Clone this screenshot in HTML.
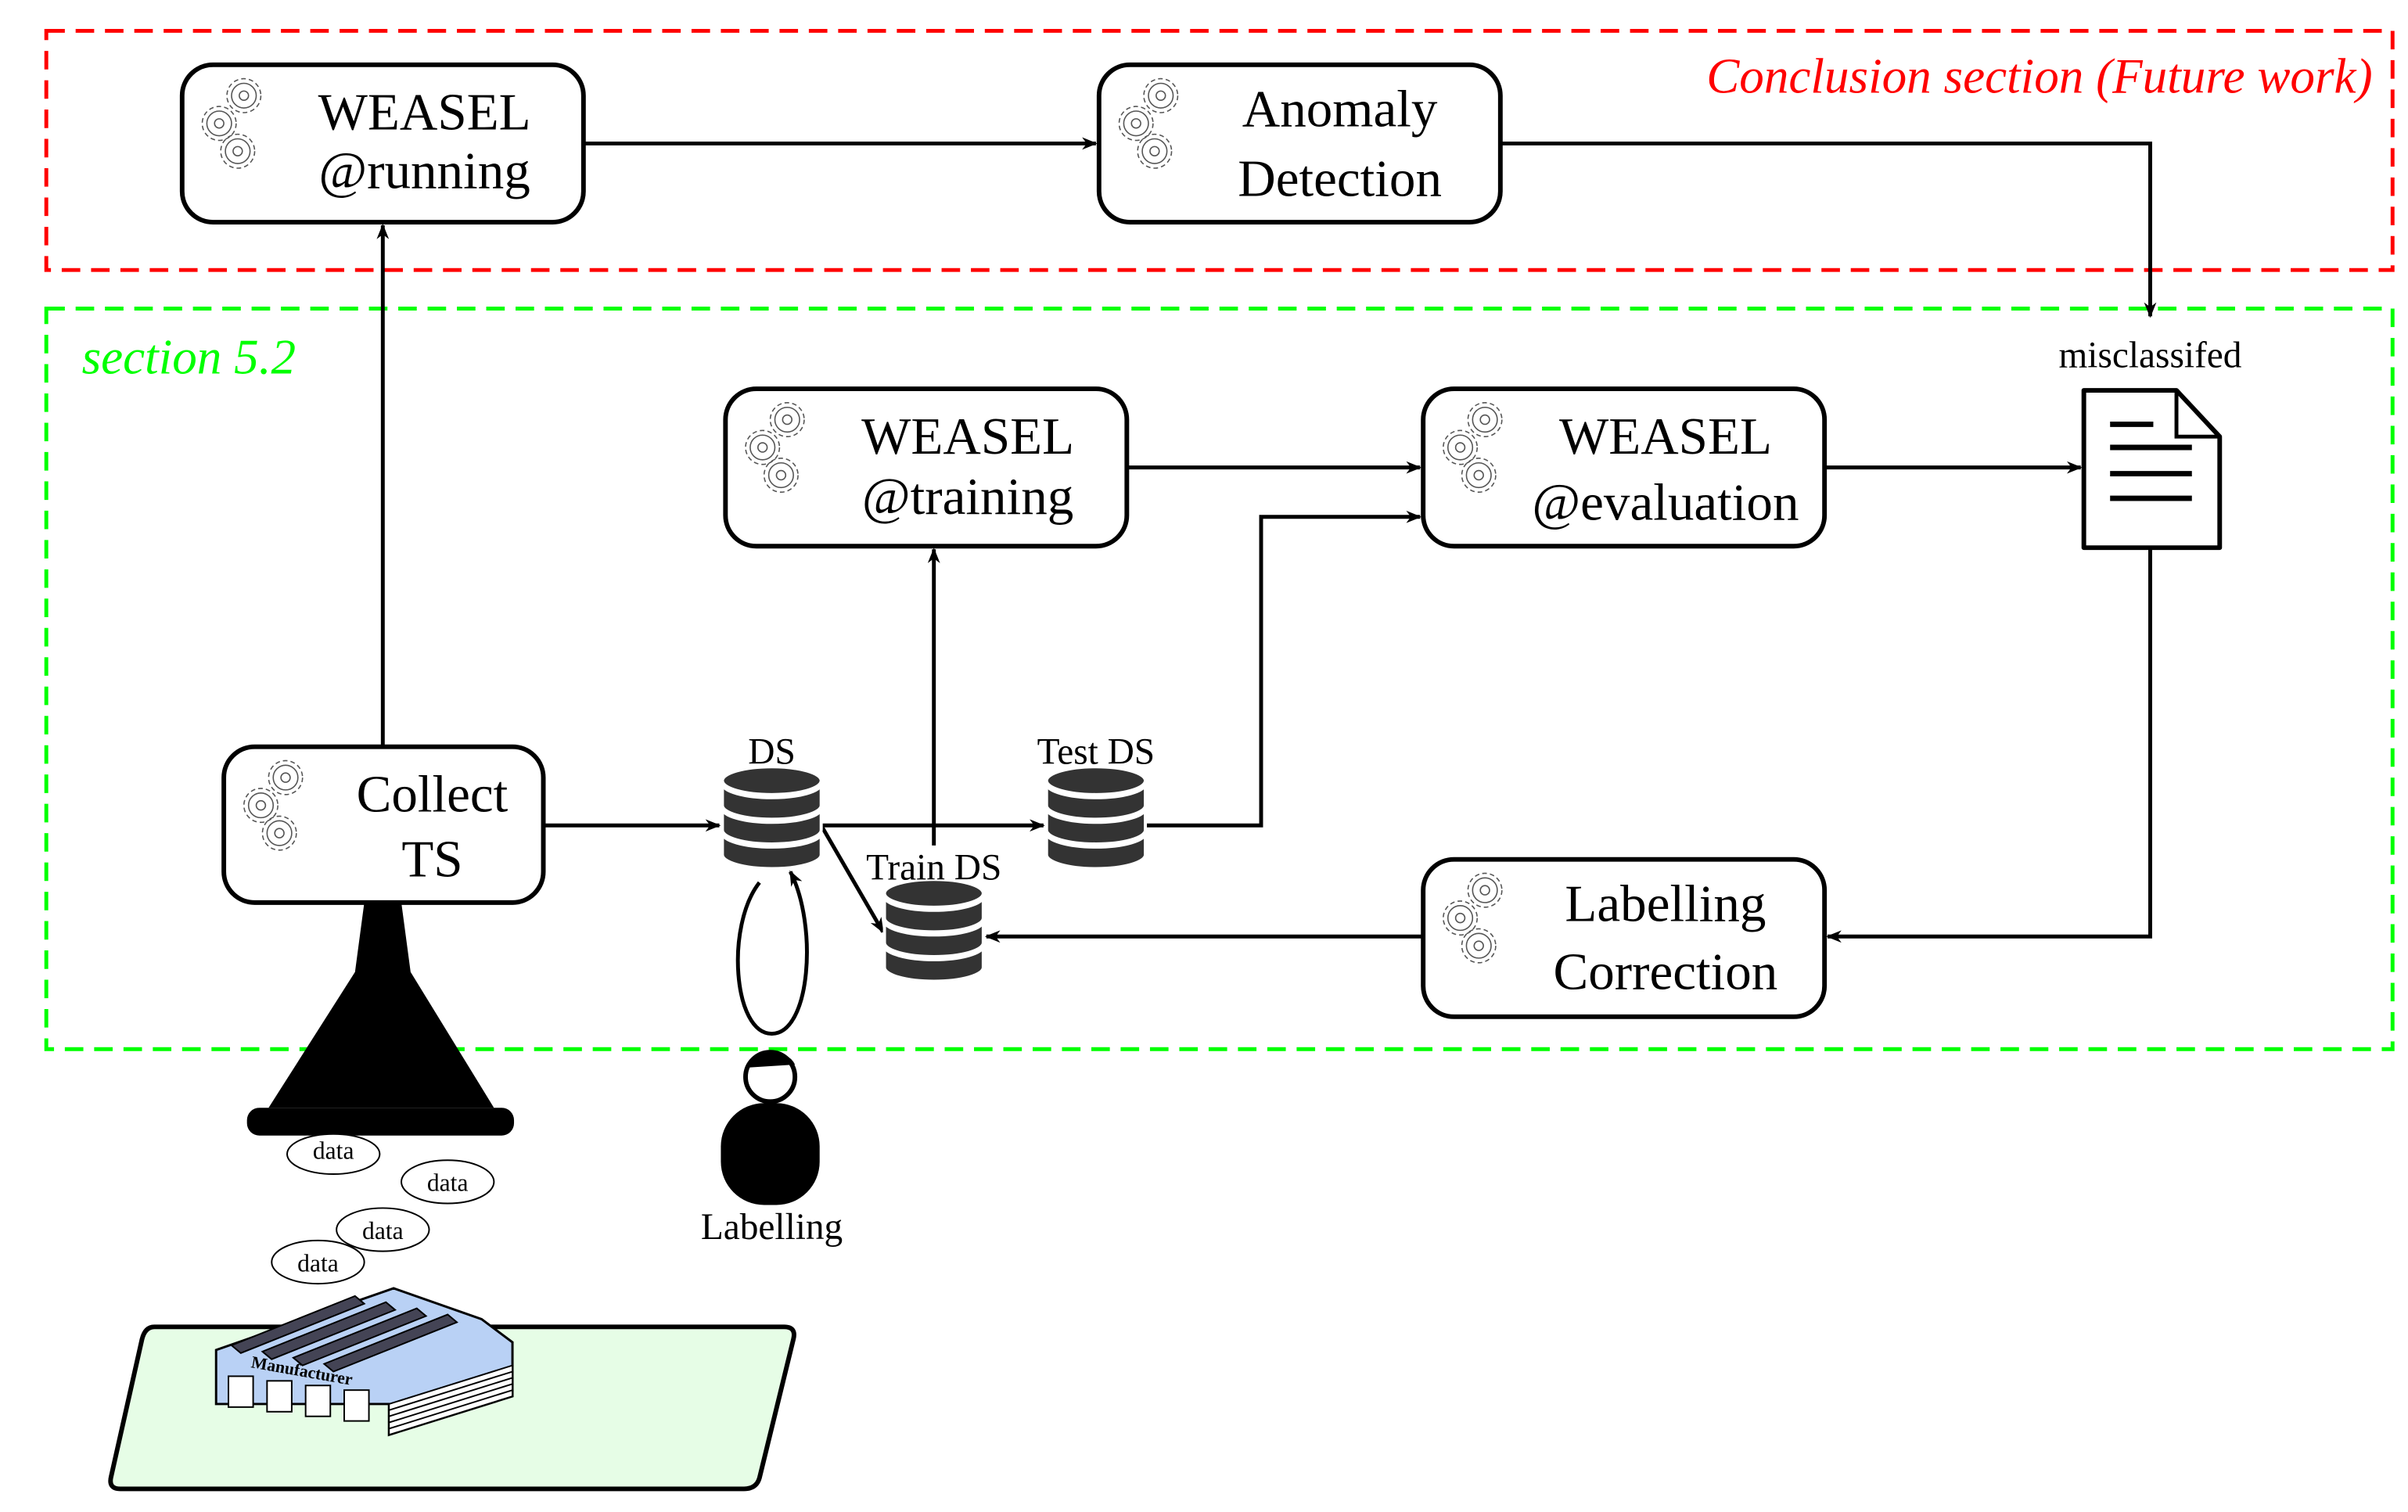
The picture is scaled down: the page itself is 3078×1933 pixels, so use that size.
<!DOCTYPE html>
<html><head><meta charset="utf-8"><style>html,body{margin:0;padding:0;background:#fff}svg{display:block;font-family:"Liberation Serif",serif}</style></head>
<body>
<svg width="3078" height="1933" viewBox="0 0 1560 980" preserveAspectRatio="none" xmlns="http://www.w3.org/2000/svg" font-family="'Liberation Serif', serif">
<defs>
<marker id="a" markerWidth="10" markerHeight="8" refX="9" refY="4" orient="auto" markerUnits="userSpaceOnUse"><path d="M0,0 L10,4 L0,8 L3,4z" fill="#000"/></marker>
<g id="gear" fill="none" stroke="#555" stroke-width="0.8">
<circle cx="0" cy="0" r="11" stroke-dasharray="3 2"/><circle cx="0" cy="0" r="8"/><circle cx="0" cy="0" r="3"/>
</g>
<g id="gears"><use href="#gear" x="18" y="-20"/><use href="#gear" x="2" y="-2"/><use href="#gear" x="14" y="16"/></g>
<g id="db" fill="#333" stroke="#fff" stroke-width="2">
<path d="M-32,-22 a32,9 0 0 0 64,0 v14 a32,9 0 0 1 -64,0z"/>
<path d="M-32,-6 a32,9 0 0 0 64,0 v14 a32,9 0 0 1 -64,0z"/>
<path d="M-32,10 a32,9 0 0 0 64,0 v14 a32,9 0 0 1 -64,0z"/>
<ellipse cx="0" cy="-24" rx="32" ry="9"/>
</g>
</defs>
<rect x="30" y="20" width="1520" height="155" fill="none" stroke="#f00" stroke-width="2.5" stroke-dasharray="12 7"/>
<rect x="30" y="200" width="1520" height="480" fill="none" stroke="#0f0" stroke-width="2.5" stroke-dasharray="12 7"/>
<text x="1537" y="60" font-size="32" font-style="italic" fill="#f00" text-anchor="end">Conclusion section (Future work)</text>
<text x="53" y="242" font-size="32" font-style="italic" fill="#0f0">section 5.2</text>
<g fill="#fff" stroke="#000" stroke-width="3">
<rect x="118" y="42" width="260" height="102" rx="20"/>
<rect x="712" y="42" width="260" height="102" rx="20"/>
<rect x="470" y="252" width="260" height="102" rx="20"/>
<rect x="922" y="252" width="260" height="102" rx="20"/>
<rect x="145" y="484" width="207" height="101" rx="20"/>
<rect x="922" y="557" width="260" height="102" rx="20"/>
</g>
<use href="#gears" x="140" y="82"/><use href="#gears" x="734" y="82"/><use href="#gears" x="492" y="292"/><use href="#gears" x="944" y="292"/><use href="#gears" x="167" y="524"/><use href="#gears" x="944" y="597"/>
<g font-size="34" text-anchor="middle">
<text x="275" y="84">WEASEL</text><text x="275" y="122">@running</text>
<text x="868" y="82">Anomaly</text><text x="868" y="127">Detection</text>
<text x="627" y="294">WEASEL</text><text x="627" y="333">@training</text>
<text x="1079" y="294">WEASEL</text><text x="1079" y="337">@evaluation</text>
<text x="280" y="526">Collect</text><text x="280" y="568">TS</text>
<text x="1079" y="597">Labelling</text><text x="1079" y="641">Correction</text>
</g>
<g fill="none" stroke="#000" stroke-width="2.5" marker-end="url(#a)">
<path d="M378,93 H710"/>
<path d="M972,93 H1393 V205"/>
<path d="M248,484 V146"/>
<path d="M352,535 H466"/>
<path d="M532,535 H676"/>
<path d="M605,548 V356"/>
<path d="M532,535 L572,604"/>
<path d="M742,535 H817 V335 H920"/>
<path d="M730,303 H920"/>
<path d="M1182,303 H1348"/>
<path d="M1393,355 V607 H1184"/>
<path d="M922,607 H639"/>
</g>
<use href="#db" x="500" y="530"/><use href="#db" x="710" y="530"/><use href="#db" x="605" y="603"/>
<g font-size="24" text-anchor="middle">
<text x="500" y="495">DS</text><text x="710" y="495">Test DS</text><text x="605" y="570">Train DS</text>
<text x="1393" y="238">misclassifed</text><text x="500" y="803">Labelling</text>
</g>
<path d="M492,572 C470,600 475,670 500,670 C525,670 530,600 512,565" fill="none" stroke="#000" stroke-width="2.5" marker-end="url(#a)"/>
<circle cx="499" cy="698" r="16" fill="#fff" stroke="#000" stroke-width="3"/>
<path d="M484,692 a16,12 0 0 1 31,-2 z" fill="#000"/>
<rect x="467" y="715" width="64" height="66" rx="28" fill="#000"/>
<path d="M1350,253 H1410 L1438,283 V355 H1350z" fill="#fff" stroke="#000" stroke-width="3" stroke-linejoin="round"/>
<path d="M1410,253 V283 H1438" fill="none" stroke="#000" stroke-width="2.5"/>
<g stroke="#000" stroke-width="3.5"><path d="M1367,275H1395M1367,290H1420M1367,307H1420M1367,323H1420"/></g>
<path d="M236,585 H260 L266,630 L320,718 H174 L230,630z" fill="#000"/>
<rect x="160" y="718" width="173" height="18" rx="8" fill="#000"/>
<g fill="#fff" stroke="#000" stroke-width="1" font-size="16" text-anchor="middle">
<ellipse cx="216" cy="748" rx="30" ry="13"/><ellipse cx="290" cy="766" rx="30" ry="14"/><ellipse cx="248" cy="797" rx="30" ry="14"/><ellipse cx="206" cy="818" rx="30" ry="14"/>
</g>
<g font-size="16" text-anchor="middle"><text x="216" y="751">data</text><text x="290" y="772">data</text><text x="248" y="803">data</text><text x="206" y="824">data</text></g>
<path d="M100,860 H508 Q516,860 514,868 L492,958 Q490,965 482,965 H78 Q70,965 72,957 L92,868 Q94,860 100,860z" fill="#e6fde6" stroke="#000" stroke-width="3"/>
<path d="M140,875 L255,835 L312,855 L332,870 L332,905 L252,930 L252,910 L140,910z" fill="#b9d1f5" stroke="#000" stroke-width="1.5"/>
<path d="M252,910 L332,885 L332,905 L252,930z" fill="#fff" stroke="#000"/>
<g stroke="#000" stroke-width="1"><path d="M252,914 L332,889M252,918 L332,893M252,922 L332,897M252,926 L332,901"/></g>
<g fill="#445" stroke="#000"><path d="M150,872 L230,840 L236,845 L156,877z M170,876 L250,844 L256,849 L176,881z M190,880 L270,848 L276,853 L196,885z M210,884 L290,852 L296,857 L216,889z"/></g>
<g fill="#fff" stroke="#000"><rect x="148" y="892" width="16" height="20"/><rect x="173" y="895" width="16" height="20"/><rect x="198" y="898" width="16" height="20"/><rect x="223" y="901" width="16" height="20"/></g>
<text x="195" y="892" font-size="11" font-weight="bold" transform="rotate(10 195 892)" text-anchor="middle">Manufacturer</text>
</svg>
</body></html>
